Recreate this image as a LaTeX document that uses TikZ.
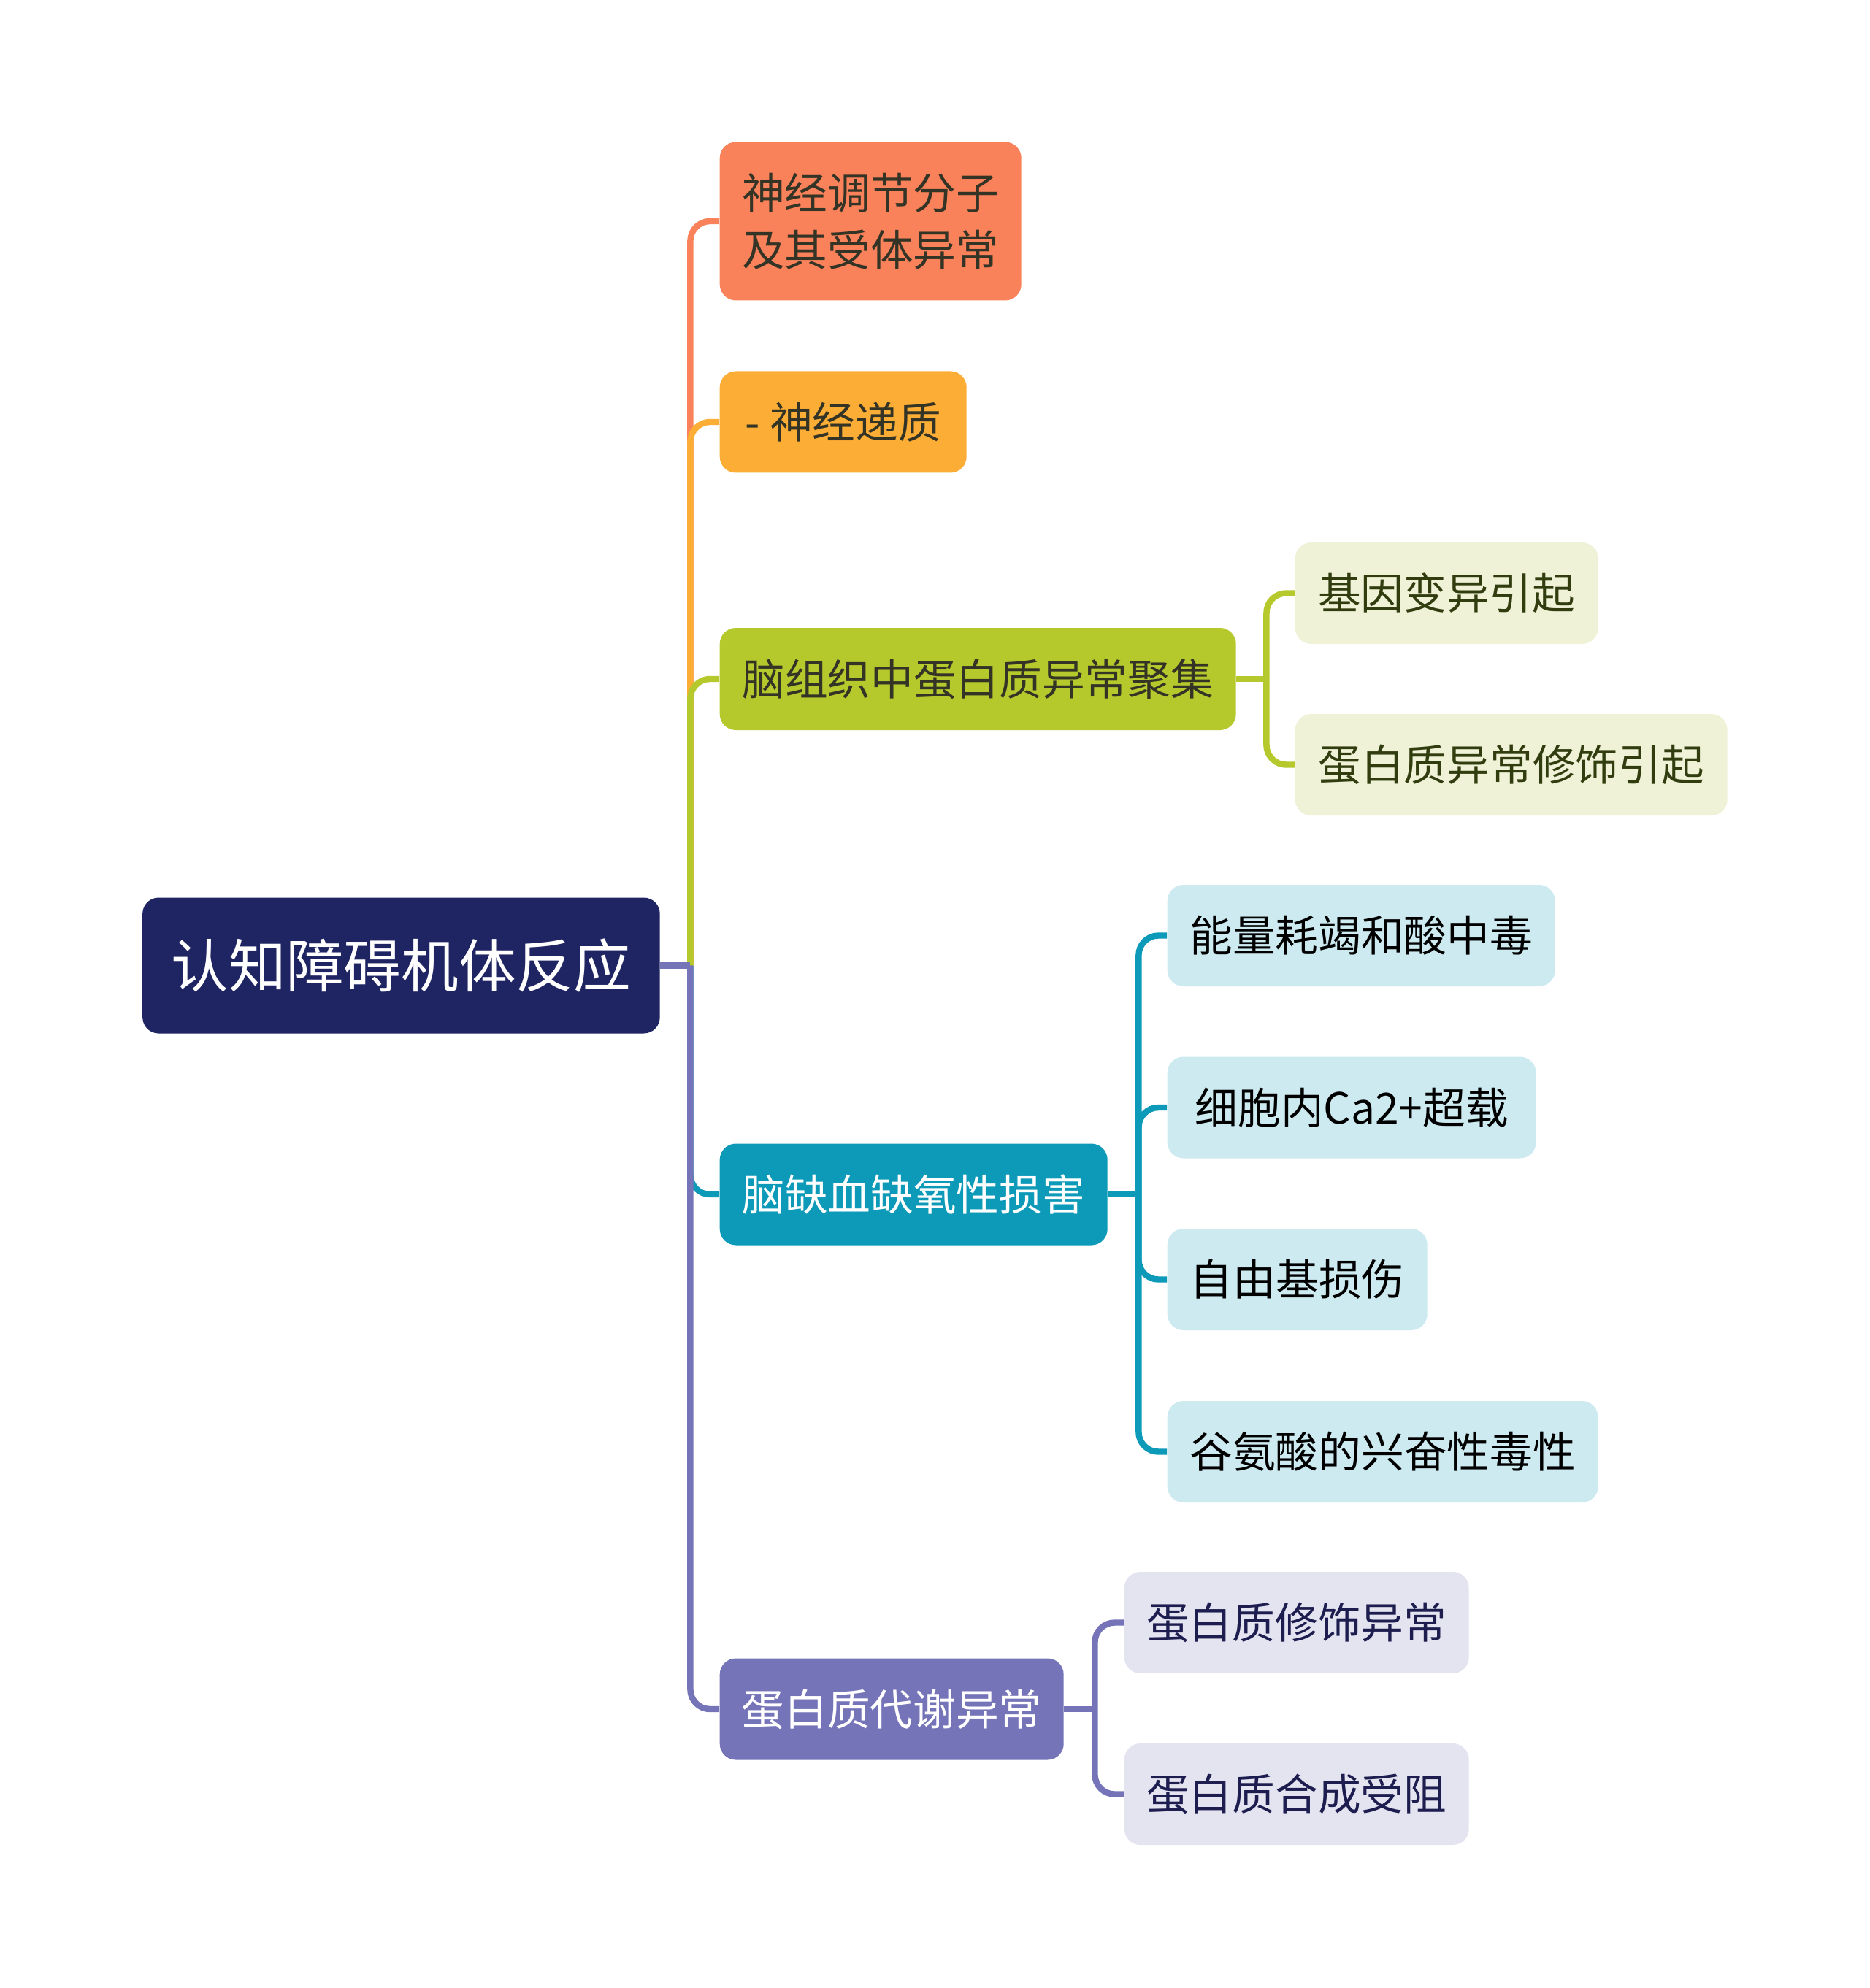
\documentclass[tikz,border=0pt]{standalone}
\usepackage{fontspec}
\newfontfamily\cjk{Noto Sans CJK SC}
\usetikzlibrary{calc}

\definecolor{rootC}{HTML}{1F2562}
\definecolor{orangeC}{HTML}{F9825A}
\definecolor{yellowC}{HTML}{FBAD35}
\definecolor{greenC}{HTML}{B5C82C}
\definecolor{tealC}{HTML}{0D9AB8}
\definecolor{purpleC}{HTML}{7574B9}
\definecolor{greenL}{HTML}{EFF2D7}
\definecolor{tealL}{HTML}{CDEAF1}
\definecolor{purpleL}{HTML}{E4E4F1}
\definecolor{darkT}{HTML}{333326}
\definecolor{oliveT}{HTML}{323D0F}
\definecolor{navyT}{HTML}{1D1D4F}

\tikzset{
  box/.style={rounded corners=0.22cm, anchor=west, inner sep=0pt, align=center,
    font=\cjk\fontsize{16.7}{22.2}\selectfont, text=darkT},
  br/.style={line width=2.4pt, rounded corners=0.27cm},
}

\begin{document}
\begin{tikzpicture}
\useasboundingbox (0,0) rectangle (25.60,-27.23);

% root
\node[box, fill=rootC, text=white, minimum width=7.085cm, minimum height=1.86cm,
  font=\cjk\fontsize{22.4}{26}\selectfont] (root) at (1.945,-13.225) {认知障碍机体反应};

% first level
\node[box, fill=orangeC, minimum width=4.13cm, minimum height=2.17cm] (neuro) at (9.85,-3.03) {神经调节分子\\及其受体异常};
\node[box, fill=yellowC, minimum width=3.38cm, minimum height=1.39cm] (trans) at (9.85,-5.78) {- 神经递质};
\node[box, fill=greenC, minimum width=7.07cm, minimum height=1.40cm] (agg) at (9.85,-9.30) {脑组织中蛋白质异常聚集};
\node[box, fill=tealC, text=white, minimum width=5.31cm, minimum height=1.39cm] (isch) at (9.85,-16.36) {脑缺血缺氧性损害};
\node[box, fill=purpleC, text=white, minimum width=4.71cm, minimum height=1.39cm] (meta) at (9.85,-23.41) {蛋白质代谢异常};

% second level
\node[box, fill=greenL, text=oliveT, minimum width=4.15cm, minimum height=1.39cm] (gene) at (17.73,-8.125) {基因变异引起};
\node[box, fill=greenL, text=oliveT, minimum width=5.92cm, minimum height=1.39cm] (modif) at (17.73,-10.475) {蛋白质异常修饰引起};
\node[box, fill=tealL, text=black, minimum width=5.31cm, minimum height=1.39cm] (energy) at (15.98,-12.815) {能量耗竭和酸中毒};
\node[box, fill=tealL, text=black, minimum width=5.05cm, minimum height=1.39cm] (calcium) at (15.98,-15.17) {细胞内Ca2+超载};
\node[box, fill=tealL, text=black, minimum width=3.56cm, minimum height=1.39cm] (radical) at (15.98,-17.525) {自由基损伤};
\node[box, fill=tealL, text=black, minimum width=5.90cm, minimum height=1.39cm] (glut) at (15.98,-19.885) {谷氨酸的兴奋性毒性};
\node[box, fill=purpleL, text=navyT, minimum width=4.72cm, minimum height=1.39cm] (pmod) at (15.39,-22.225) {蛋白质修饰异常};
\node[box, fill=purpleL, text=navyT, minimum width=4.72cm, minimum height=1.39cm] (psyn) at (15.39,-24.575) {蛋白质合成受阻};

% junctions
\coordinate (jr) at ($(root.east)+(0.41,0)$);
\coordinate (ja) at ($(agg.east)+(0.41,0)$);
\coordinate (ji) at ($(isch.east)+(0.42,0)$);
\coordinate (jm) at ($(meta.east)+(0.42,0)$);

% branches
\draw[br, orangeC] (jr) |- (neuro.west);
\draw[br, yellowC] (jr) |- (trans.west);
\draw[br, greenC] (jr) |- (agg.west);
\draw[br, tealC] (jr) |- (isch.west);
\draw[br, purpleC] (jr) |- (meta.west);
\draw[br, purpleC] (root.east) -- (jr);

\draw[br, greenC] (agg.east) -- (ja);
\draw[br, greenC] (ja) |- (gene.west);
\draw[br, greenC] (ja) |- (modif.west);

\draw[br, tealC] (isch.east) -- (ji);
\foreach \n in {energy,calcium,radical,glut}
  \draw[br, tealC] (ji) |- (\n.west);

\draw[br, purpleC] (meta.east) -- (jm);
\draw[br, purpleC] (jm) |- (pmod.west);
\draw[br, purpleC] (jm) |- (psyn.west);
\end{tikzpicture}
\end{document}
